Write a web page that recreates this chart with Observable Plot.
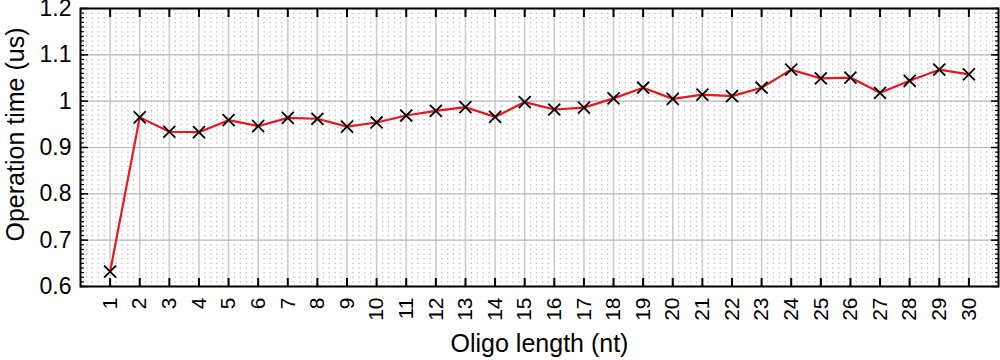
<!DOCTYPE html>
<html>
<head>
<meta charset="utf-8">
<script src="https://cdn.jsdelivr.net/npm/d3@7"></script>
<script src="https://cdn.jsdelivr.net/npm/@observablehq/plot@0.6"></script>
<style>
  html, body { margin: 0; padding: 0; background: #fff; }
  #chart { width: 1000px; height: 360px; }
</style>
</head>
<body>
<div id="chart"></div>
<script>
const oligoLength = [1,2,3,4,5,6,7,8,9,10,11,12,13,14,15,16,17,18,19,20,21,22,23,24,25,26,27,28,29,30];
const operationTime = [0.632,0.965,0.934,0.933,0.959,0.946,0.964,0.962,0.945,0.954,0.969,0.979,0.987,0.966,0.998,0.982,0.986,1.006,1.029,1.005,1.014,1.011,1.029,1.068,1.049,1.051,1.018,1.044,1.068,1.058];
const xTickLabels = ["1","2","3","4","5","6","7","8","9","10","11","12","13","14","15","16","17","18","19","20","21","22","23","24","25","26","27","28","29","30"];
const yTicks = [0.6,0.7,0.8,0.9,1.0,1.1,1.2];
const yTickLabels = ["0.6","0.7","0.8","0.9","1","1.1","1.2"];
const xLabel = "Oligo length (nt)";
const yLabel = "Operation time (us)";

const data = oligoLength.map((x, i) => ({x, y: operationTime[i]}));
const xTicks = oligoLength;
const xDomain = [0, 31];
const yDomain = [0.6, 1.2];
const minorX = d3.range(0, 156).map(k => k / 5).filter(v => Math.abs(v - Math.round(v)) > 1e-6);
const minorY = d3.range(60, 121).map(k => k / 100);
const font = "'Liberation Sans', Arial, sans-serif";

const chart = Plot.plot({
  width: 1000,
  height: 360,
  marginLeft: 80,
  marginRight: 2,
  marginTop: 8,
  marginBottom: 74,
  style: {fontFamily: font, background: "#fff", overflow: "visible"},
  x: {domain: xDomain, axis: null},
  y: {domain: yDomain, axis: null},
  marks: [
    Plot.ruleX(minorX, {x: d => d, stroke: "#b4b4b4", strokeWidth: 1.2, strokeDasharray: "1.3,3.33"}),
    Plot.ruleX(xTicks, {x: d => d, stroke: "#cccccc", strokeWidth: 1.6}),
    Plot.ruleY(yTicks.slice(1, -1), {y: d => d, stroke: "#b8b8b8", strokeWidth: 1.2}),
    Plot.axisX(xTicks, {anchor: "bottom", tickSize: -8, text: null, label: null, strokeWidth: 2, stroke: "black"}),
    Plot.axisX(xTicks, {anchor: "top", tickSize: -8, text: null, label: null, strokeWidth: 2, stroke: "black"}),
    Plot.axisY(yTicks, {anchor: "left", tickSize: -8, text: null, label: null, strokeWidth: 1.5, stroke: "black"}),
    Plot.axisY(yTicks, {anchor: "right", tickSize: -8, text: null, label: null, strokeWidth: 1.5, stroke: "black"}),
    Plot.axisY(minorY, {anchor: "left", tickSize: -4, text: null, label: null, strokeWidth: 1.2, stroke: "black"}),
    Plot.axisY(minorY, {anchor: "right", tickSize: -4, text: null, label: null, strokeWidth: 1.2, stroke: "black"}),
    Plot.frame({stroke: "black", strokeWidth: 2}),
    Plot.line(data, {x: "x", y: "y", stroke: "#e8161c", strokeWidth: 2.2}),
    Plot.dot(data, {x: "x", y: "y", symbol: "times", r: 5.5, stroke: "black", strokeWidth: 1.8}),
    Plot.text(xTicks, {x: d => d, frameAnchor: "bottom", text: (d, i) => xTickLabels[i], rotate: -90, textAnchor: "end", lineAnchor: "middle", dy: 11, fontSize: 21, fill: "black"}),
    Plot.text(yTicks, {y: d => d, frameAnchor: "left", text: (d, i) => yTickLabels[i], textAnchor: "end", lineAnchor: "middle", dx: -9, fontSize: 23, fill: "black"}),
    Plot.text([xLabel], {x: () => d3.mean(xDomain), frameAnchor: "bottom", text: d => d, lineAnchor: "bottom", dy: 65, fontSize: 25, fill: "black"}),
    Plot.text([yLabel], {y: () => d3.mean(yDomain), frameAnchor: "left", text: d => d, rotate: -90, textAnchor: "middle", lineAnchor: "bottom", dx: -57, dy: -13, fontSize: 25, fill: "black"})
  ]
});
document.getElementById("chart").appendChild(chart);
</script>
</body>
</html>
